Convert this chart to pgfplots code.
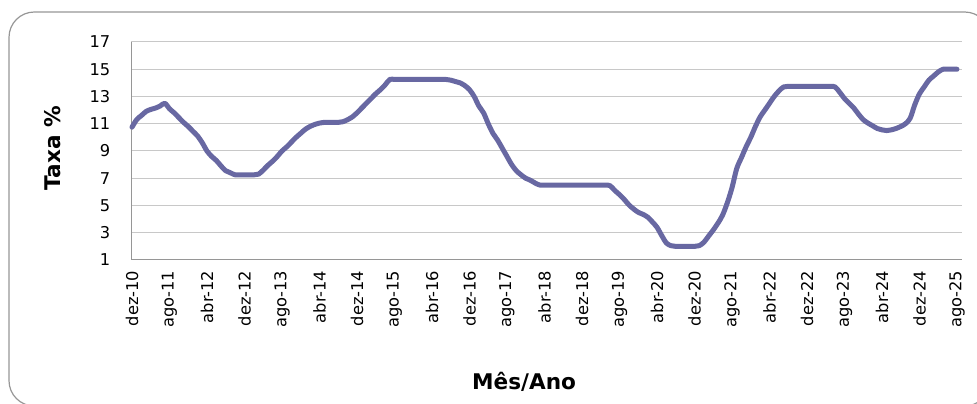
\documentclass[border=0pt]{standalone}
\usepackage{fontspec}
\setmainfont{DejaVu Sans}
\usepackage{pgfplots}
\pgfplotsset{compat=1.18}
\usepackage{pgfplotstable}
\definecolor{linec}{RGB}{104,104,162}
\definecolor{gridc}{RGB}{200,200,200}
\definecolor{axisc}{RGB}{150,150,150}
\definecolor{framec}{RGB}{150,150,150}

\pgfplotstableread{
x y
0 10.75
1 11.30
2 11.60
3 11.90
4 12.05
5 12.15
6 12.30
7 12.50
8 12.10
9 11.80
10 11.45
11 11.10
12 10.80
13 10.45
14 10.10
15 9.60
16 9.00
17 8.60
18 8.30
19 7.90
20 7.55
21 7.40
22 7.25
23 7.25
24 7.25
25 7.25
26 7.25
27 7.30
28 7.60
29 7.95
30 8.25
31 8.60
32 9.00
33 9.30
34 9.65
35 10.00
36 10.30
37 10.60
38 10.80
39 10.95
40 11.05
41 11.10
42 11.10
43 11.10
44 11.10
45 11.15
46 11.30
47 11.50
48 11.80
49 12.15
50 12.50
51 12.85
52 13.20
53 13.50
54 13.85
55 14.25
56 14.25
57 14.25
58 14.25
59 14.25
60 14.25
61 14.25
62 14.25
63 14.25
64 14.25
65 14.25
66 14.25
67 14.25
68 14.20
69 14.10
70 14.00
71 13.80
72 13.50
73 13.00
74 12.30
75 11.80
76 11.00
77 10.30
78 9.80
79 9.20
80 8.60
81 8.00
82 7.55
83 7.25
84 7.00
85 6.85
86 6.65
87 6.50
88 6.50
89 6.50
90 6.50
91 6.50
92 6.50
93 6.50
94 6.50
95 6.50
96 6.50
97 6.50
98 6.50
99 6.50
100 6.50
101 6.50
102 6.45
103 6.10
104 5.80
105 5.45
106 5.05
107 4.75
108 4.50
109 4.35
110 4.15
111 3.80
112 3.40
113 2.80
114 2.25
115 2.05
116 2.00
117 2.00
118 2.00
119 2.00
120 2.00
121 2.05
122 2.30
123 2.75
124 3.20
125 3.70
126 4.30
127 5.20
128 6.30
129 7.70
130 8.50
131 9.30
132 10.00
133 10.80
134 11.50
135 12.00
136 12.50
137 13.00
138 13.40
139 13.70
140 13.75
141 13.75
142 13.75
143 13.75
144 13.75
145 13.75
146 13.75
147 13.75
148 13.75
149 13.75
150 13.70
151 13.30
152 12.85
153 12.50
154 12.15
155 11.70
156 11.30
157 11.05
158 10.85
159 10.65
160 10.55
161 10.50
162 10.55
163 10.65
164 10.80
165 11.00
166 11.40
167 12.40
168 13.20
169 13.70
170 14.20
171 14.50
172 14.80
173 15.00
174 15.00
175 15.00
176 15.00
}\selic

\begin{document}
\begin{tikzpicture}[x=0.75pt,y=0.75pt]
\useasboundingbox (0,0) rectangle (977,403);
\draw[framec, line width=0.9pt, rounded corners=19pt] (9,-3) rectangle (990,391);
\begin{axis}[
  at={(98.25pt,107.25pt)}, anchor=south west,
  scale only axis,
  width=623.25pt, height=163.5pt,
  xmin=-0.21, xmax=177.07,
  ymin=1, ymax=17,
  ytick={1,3,...,17},
  xtick={0,8,...,176},
  xticklabels={dez-10,ago-11,abr-12,dez-12,ago-13,abr-14,dez-14,ago-15,abr-16,dez-16,ago-17,abr-18,dez-18,ago-19,abr-20,dez-20,ago-21,abr-22,dez-22,ago-23,abr-24,dez-24,ago-25},
  major tick length=0pt,
  ymajorgrids,
  grid style={gridc, line width=0.75pt},
  axis x line*=bottom, axis y line*=left,
  axis line style={-, draw=axisc, line width=0.75pt},
  /pgf/number format/assume math mode=true,
  tick label style={font=\fontsize{12.2pt}{14pt}\selectfont, black},
  yticklabel style={xshift=-12pt},
  xticklabel style={rotate=90, anchor=east, yshift=0pt, xshift=-4.5pt},
  every axis y label/.style={at={(axis description cs:-0.0854,0.514)}, rotate=90, anchor=base},
  every axis x label/.style={at={(axis description cs:0.473,-0.592)}, anchor=base},
  label style={font=\bfseries\fontsize{16.2pt}{18pt}\selectfont},
  ylabel={Taxa \%},
  xlabel={Mês/Ano},
  clip=false,
]
\addplot[linec, line width=3.75pt, smooth, tension=0.55, line join=round, line cap=round] table[x=x,y=y] {\selic};
\end{axis}
\end{tikzpicture}
\end{document}
